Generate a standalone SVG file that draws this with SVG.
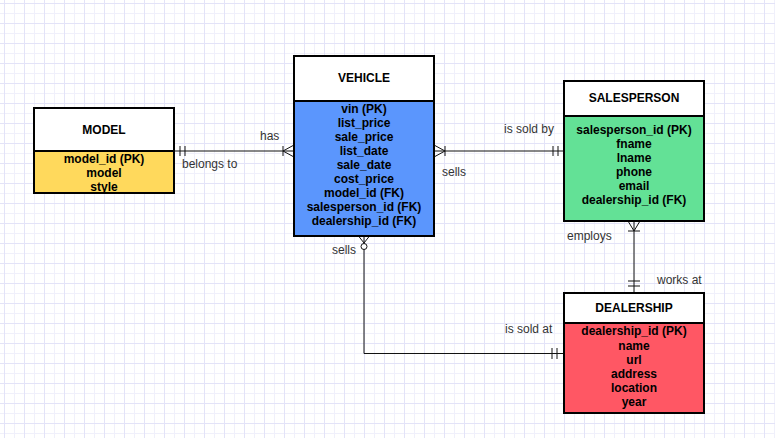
<svg xmlns="http://www.w3.org/2000/svg" width="775" height="438" viewBox="0 0 775 438">
<defs>
<pattern id="grid" patternUnits="userSpaceOnUse" x="4" y="3" width="20" height="20">
<rect x="0" y="10" width="20" height="1" fill="#f0f0fb"/>
<rect x="10" y="0" width="1" height="20" fill="#f0f0fb"/>
<rect x="0" y="0" width="20" height="1" fill="#e3e3f8"/>
<rect x="0" y="0" width="1" height="20" fill="#e3e3f8"/>
</pattern>
<style>
.box{stroke:#000;stroke-width:2}
.head{fill:#fff}
.title{font-family:"Liberation Sans",Arial,sans-serif;font-size:12px;font-weight:bold;fill:#000;text-anchor:middle}
.attr{font-family:"Liberation Sans",Arial,sans-serif;font-size:12px;font-weight:bold;fill:#000;text-anchor:middle}
.lbl{font-family:"Liberation Sans",Arial,sans-serif;font-size:12px;fill:#333}
.ln{fill:none;stroke:#111;stroke-width:1}
</style>
</defs>
<rect width="775" height="438" fill="#fff"/>
<rect width="775" height="438" fill="url(#grid)"/>

<g id="connectors">
<!-- MODEL - VEHICLE -->
<path class="ln" d="M174,151 H294"/>
<path class="ln" d="M180,146 V156 M185,146 V156"/>
<path class="ln" d="M283,146 V156 M283,151 L294,145 M283,151 L294,157"/>
<!-- VEHICLE - SALESPERSON -->
<path class="ln" d="M434,151 H564"/>
<path class="ln" d="M445,146 V156 M445,151 L434,145 M445,151 L434,157"/>
<path class="ln" d="M553,146 V156 M558,146 V156"/>
<!-- SALESPERSON - DEALERSHIP -->
<path class="ln" d="M634,221 V293"/>
<path class="ln" d="M628,231 H640 M634,231 L628,221 M634,231 L640,221"/>
<path class="ln" d="M628,281 H640 M628,286 H640"/>
<!-- VEHICLE - DEALERSHIP -->
<path class="ln" d="M364,236 V353.5 H564"/>
<path class="ln" d="M364,243 L358.5,236 M364,243 L369.5,236"/>
<circle cx="364" cy="246.5" r="3" fill="#fff" stroke="#111" stroke-width="1"/>
<path class="ln" d="M552,348 V359 M557,348 V359"/>
</g>

<g id="labels">
<text class="lbl" x="260" y="140">has</text>
<text class="lbl" x="182" y="168">belongs to</text>
<text class="lbl" x="504" y="133">is sold by</text>
<text class="lbl" x="442" y="176">sells</text>
<text class="lbl" x="567" y="240">employs</text>
<text class="lbl" x="657" y="284">works at</text>
<text class="lbl" x="332" y="254">sells</text>
<text class="lbl" x="505" y="333">is sold at</text>
</g>

<g id="model">
<rect class="box" x="34" y="151" width="140" height="42" fill="#ffd95c"/>
<rect class="box head" x="34" y="108" width="140" height="43"/>
<text class="title" x="104" y="133.5">MODEL</text>
<text class="attr" x="104" y="162.5">model_id (PK)</text>
<text class="attr" x="104" y="176.5">model</text>
<text class="attr" x="104" y="190.5">style</text>
</g>

<g id="vehicle">
<rect class="box" x="294" y="101" width="140" height="135" fill="#5b96fd"/>
<rect class="box head" x="294" y="56" width="140" height="45"/>
<text class="title" x="364" y="81.5">VEHICLE</text>
<text class="attr" x="364" y="113">vin (PK)</text>
<text class="attr" x="364" y="127">list_price</text>
<text class="attr" x="364" y="141">sale_price</text>
<text class="attr" x="364" y="155">list_date</text>
<text class="attr" x="364" y="169">sale_date</text>
<text class="attr" x="364" y="183">cost_price</text>
<text class="attr" x="364" y="197">model_id (FK)</text>
<text class="attr" x="364" y="211">salesperson_id (FK)</text>
<text class="attr" x="364" y="225">dealership_id (FK)</text>
</g>

<g id="salesperson">
<rect class="box" x="564" y="116" width="140" height="105" fill="#63e196"/>
<rect class="box head" x="564" y="81" width="140" height="35"/>
<text class="title" x="634" y="101.5">SALESPERSON</text>
<text class="attr" x="634" y="134">salesperson_id (PK)</text>
<text class="attr" x="634" y="148">fname</text>
<text class="attr" x="634" y="162">lname</text>
<text class="attr" x="634" y="176">phone</text>
<text class="attr" x="634" y="190">email</text>
<text class="attr" x="634" y="204">dealership_id (FK)</text>
</g>

<g id="dealership">
<rect class="box" x="564" y="323" width="140" height="90" fill="#ff5764"/>
<rect class="box head" x="564" y="293" width="140" height="30"/>
<text class="title" x="634" y="312">DEALERSHIP</text>
<text class="attr" x="634" y="335">dealership_id (PK)</text>
<text class="attr" x="634" y="349.5">name</text>
<text class="attr" x="634" y="363.5">url</text>
<text class="attr" x="634" y="377.5">address</text>
<text class="attr" x="634" y="391.5">location</text>
<text class="attr" x="634" y="405.5">year</text>
</g>
</svg>
